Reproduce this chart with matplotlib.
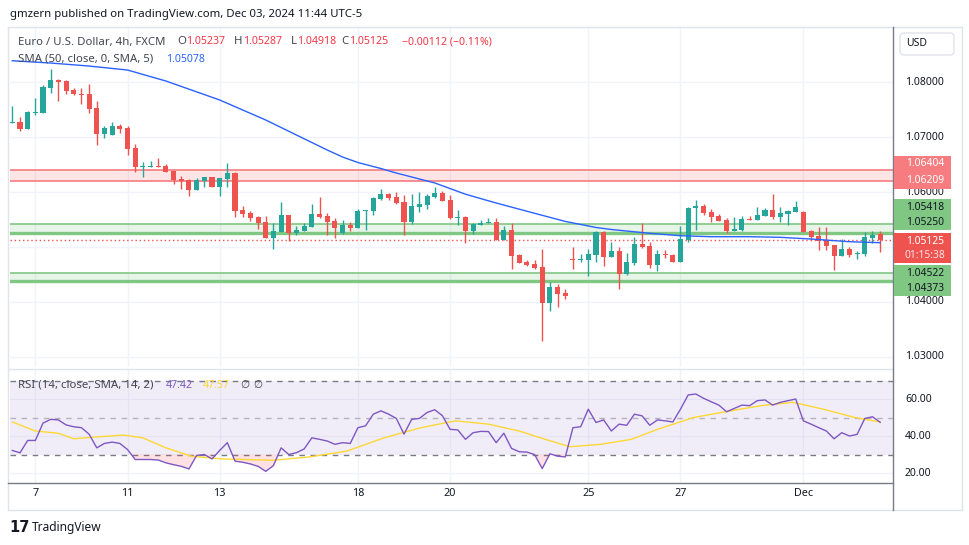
"""EUR/USD 4h chart with SMA(50) and RSI(14) panel, TradingView style."""
import matplotlib
matplotlib.use('Agg')
import matplotlib.pyplot as plt
from matplotlib.patches import Rectangle, FancyBboxPatch
import numpy as np

plt.rcParams['font.family'] = ['Noto Sans', 'DejaVu Sans']

W, H = 970, 545

# ── candles (index 0 = first visible 4h bar) ──
opens = [1.07258, 1.07273, 1.07151, 1.07436, 1.07442, 1.07896, 1.08036, 1.08018, 1.07855, 1.07787,
         1.07782, 1.07527, 1.07060, 1.07036, 1.07200, 1.07164, 1.06800, 1.06455, 1.06455, 1.06473,
         1.06467, 1.06382, 1.06231, 1.06218, 1.06036, 1.06205, 1.06267, 1.06096, 1.06242, 1.06351,
         1.05673, 1.05618, 1.05545, 1.05455, 1.05169, 1.05278, 1.05582, 1.05260, 1.05296, 1.05369,
         1.05600, 1.05564, 1.05473, 1.05249, 1.05395, 1.05351, 1.05655, 1.05655, 1.05878, 1.05964,
         1.05909, 1.05818, 1.05455, 1.05733, 1.05769, 1.05909, 1.05976, 1.05855, 1.05533, 1.05545,
         1.05291, 1.05405, 1.05442, 1.05455, 1.05127, 1.05309, 1.04855, 1.04727, 1.04691, 1.04636,
         1.03987, 1.04273, 1.04164, 1.04769, 1.04769, 1.04769, 1.04860, 1.05267, 1.04824, 1.04927,
         1.04515, 1.04709, 1.05049, 1.05013, 1.04673, 1.04873, 1.04855, 1.04727, 1.05133, 1.05704,
         1.05745, 1.05636, 1.05564, 1.05496, 1.05296, 1.05315, 1.05515, 1.05496, 1.05569, 1.05673,
         1.05545, 1.05605, 1.05636, 1.05636, 1.05291, 1.05200, 1.05127, 1.05036, 1.04836, 1.04964,
         1.04867, 1.04873, 1.05169, 1.05237]
highs = [1.07564, 1.07358, 1.07473, 1.07709, 1.07945, 1.08236, 1.08055, 1.08036, 1.07885, 1.07885,
         1.07964, 1.07655, 1.07195, 1.07273, 1.07231, 1.07205, 1.06867, 1.06551, 1.06564, 1.06613,
         1.06509, 1.06390, 1.06291, 1.06231, 1.06249, 1.06275, 1.06275, 1.06262, 1.06522, 1.06364,
         1.05745, 1.05655, 1.05569, 1.05558, 1.05431, 1.05813, 1.05590, 1.05387, 1.05431, 1.05782,
         1.05909, 1.05624, 1.05522, 1.05485, 1.05449, 1.05685, 1.05675, 1.05915, 1.06055, 1.05976,
         1.05995, 1.05945, 1.05964, 1.05995, 1.05958, 1.06096, 1.06013, 1.05945, 1.05673, 1.05564,
         1.05442, 1.05491, 1.05527, 1.05522, 1.05382, 1.05436, 1.04873, 1.04769, 1.04758, 1.04964,
         1.04358, 1.04327, 1.04236, 1.04995, 1.04867, 1.04964, 1.05291, 1.05291, 1.05085, 1.05000,
         1.04885, 1.05176, 1.05436, 1.05085, 1.04940, 1.04940, 1.04867, 1.05387, 1.05722, 1.05855,
         1.05782, 1.05691, 1.05600, 1.05533, 1.05545, 1.05564, 1.05558, 1.05727, 1.05709, 1.05964,
         1.05727, 1.05673, 1.05842, 1.05655, 1.05315, 1.05364, 1.05364, 1.05045, 1.05145, 1.05000,
         1.04927, 1.05278, 1.05291, 1.05287]
lows = [1.07250, 1.07115, 1.07145, 1.07405, 1.07435, 1.07805, 1.07660, 1.07782, 1.07764, 1.07600,
        1.07442, 1.06855, 1.06987, 1.07030, 1.07078, 1.06673, 1.06358, 1.06278, 1.06450, 1.06455,
        1.06355, 1.06145, 1.06055, 1.05933, 1.06030, 1.06096, 1.06085, 1.05933, 1.06096, 1.05551,
        1.05551, 1.05478, 1.05327, 1.05160, 1.04958, 1.05270, 1.05104, 1.05224, 1.05290, 1.05358,
        1.05527, 1.05224, 1.05158, 1.05240, 1.05291, 1.05345, 1.05309, 1.05587, 1.05855, 1.05860,
        1.05790, 1.05218, 1.05424, 1.05636, 1.05691, 1.05900, 1.05835, 1.05509, 1.05400, 1.05067,
        1.05242, 1.05400, 1.05436, 1.05120, 1.05120, 1.04605, 1.04705, 1.04655, 1.04600, 1.03296,
        1.03842, 1.03915, 1.04060, 1.04605, 1.04722, 1.04478, 1.04733, 1.04660, 1.04815, 1.04242,
        1.04491, 1.04673, 1.04987, 1.04618, 1.04564, 1.04805, 1.04720, 1.04720, 1.05096, 1.05315,
        1.05587, 1.05460, 1.05470, 1.05260, 1.05290, 1.05296, 1.05490, 1.05490, 1.05565, 1.05509,
        1.05460, 1.05400, 1.05630, 1.05270, 1.05133, 1.04951, 1.04940, 1.04582, 1.04830, 1.04824,
        1.04787, 1.04831, 1.05067, 1.04918]
closes = [1.07273, 1.07151, 1.07455, 1.07449, 1.07909, 1.08036, 1.08005, 1.07842, 1.07787, 1.07769,
          1.07515, 1.07055, 1.07164, 1.07200, 1.07151, 1.06787, 1.06455, 1.06473, 1.06467, 1.06460,
          1.06364, 1.06218, 1.06200, 1.06036, 1.06218, 1.06267, 1.06096, 1.06255, 1.06340, 1.05655,
          1.05605, 1.05527, 1.05442, 1.05169, 1.05291, 1.05582, 1.05260, 1.05309, 1.05382, 1.05600,
          1.05551, 1.05460, 1.05351, 1.05395, 1.05351, 1.05655, 1.05667, 1.05891, 1.05964, 1.05896,
          1.05800, 1.05455, 1.05745, 1.05782, 1.05927, 1.05976, 1.05842, 1.05533, 1.05540, 1.05291,
          1.05424, 1.05442, 1.05449, 1.05127, 1.05309, 1.04836, 1.04715, 1.04678, 1.04624, 1.03987,
          1.04273, 1.04151, 1.04115, 1.04758, 1.04776, 1.04867, 1.05273, 1.04824, 1.04927, 1.04515,
          1.04722, 1.05049, 1.05000, 1.04673, 1.04867, 1.04860, 1.04727, 1.05140, 1.05709, 1.05745,
          1.05624, 1.05545, 1.05478, 1.05296, 1.05333, 1.05509, 1.05496, 1.05582, 1.05673, 1.05545,
          1.05618, 1.05660, 1.05727, 1.05278, 1.05187, 1.05115, 1.05018, 1.04836, 1.04964, 1.04855,
          1.04896, 1.05182, 1.05218, 1.05125]

# SMA(50) line, sampled off the chart
sma_idx = [0, 5, 10, 15, 20, 27, 33, 37, 41, 43, 45, 48, 50, 55, 59, 63, 68, 72, 76, 78,
           83, 87, 91, 96, 100, 104, 109, 113]
sma_val = [1.08387, 1.08345, 1.08290, 1.08218, 1.08018, 1.07673, 1.07309, 1.07036, 1.06764, 1.06636,
           1.06536, 1.06427, 1.06345, 1.06165, 1.05960, 1.05800, 1.05613, 1.05465, 1.05355, 1.05318,
           1.05249, 1.05205, 1.05187, 1.05187, 1.05176, 1.05145, 1.05096, 1.05078]

# RSI(14) per bar and its SMA(14)
rsi = [32.2, 30.9, 37.6, 37.6, 47.0, 49.0, 48.7, 46.0, 45.0, 44.5,
       41.0, 33.6, 36.0, 36.7, 36.0, 32.7, 27.3, 27.3, 27.3, 27.0,
       25.5, 24.5, 23.6, 22.2, 29.5, 30.0, 27.6, 32.2, 36.4, 26.4,
       25.8, 24.9, 23.6, 20.9, 24.0, 33.6, 30.0, 31.0, 33.0, 39.0,
       38.2, 37.3, 35.5, 36.4, 36.0, 44.5, 45.5, 51.8, 53.6, 51.8,
       49.5, 41.0, 49.0, 49.5, 52.7, 54.2, 51.0, 43.6, 43.3, 38.2,
       41.8, 42.5, 42.4, 36.4, 41.5, 33.3, 31.5, 31.3, 30.0, 22.4,
       30.4, 29.1, 28.7, 44.5, 45.0, 54.5, 47.3, 48.7, 42.7, 46.4,
       45.8, 51.8, 50.9, 45.8, 48.7, 48.2, 47.6, 54.5, 62.2, 62.7,
       60.4, 58.5, 56.7, 53.1, 54.9, 56.7, 56.4, 59.1, 59.5, 56.7,
       58.2, 59.1, 60.0, 48.2, 46.4, 44.5, 42.7, 38.5, 41.8, 40.0,
       40.9, 49.5, 50.4, 47.42]
rsi_sma_idx = [0, 3, 6, 8, 11, 14.5, 17, 20, 23.4, 27.4, 34, 38.7, 43.5, 48.4, 53.2,
               57.7, 62, 66, 69.4, 72.6, 76.6, 80.6, 84, 88.7, 93.5, 97.5, 101.6, 105.6, 109.7, 113]
rsi_sma_val = [47.6, 42.7, 41.5, 38.5, 39.5, 40.5, 39.0, 33.6, 29.0, 27.6, 26.9, 28.7, 31.8, 39.0, 44.5,
               48.2, 46.4, 42.7, 38.2, 34.2, 35.5, 38.2, 43.6, 50.0, 53.6, 56.4, 58.2, 54.5, 50.0, 47.57]

day_labels = ['7', '11', '13', '18', '20', '25', '27', 'Dec']
day_idx = [3, 15, 27, 45, 57, 75, 87, 103]

price_ticks = [1.03, 1.04, 1.05, 1.06, 1.07, 1.08]
rsi_ticks = [20, 40, 60]

res_zone = (1.06209, 1.06404)
sup_zone_hi = (1.05250, 1.05418)
sup_zone_lo = (1.04373, 1.04522)
last_close = 1.05125
countdown = '01:15:38'

GREEN, RED = '#26a69a', '#ef5350'
TXT = '#131722'
GREY = '#434651'
GRID = '#f0f3fa'


def rect(x0, y0, x1, y1):
    return [x0 / W, 1 - y1 / H, (x1 - x0) / W, (y1 - y0) / H]


def py(a, v):
    """pixel row (from top) of value v on axes a"""
    return H - a.transData.transform((0, v))[1]


fig = plt.figure(figsize=(W / 100, H / 100), dpi=100)
fig.patch.set_facecolor('white')

x = np.arange(len(opens))
o, hi, lo, c = (np.array(v) for v in (opens, highs, lows, closes))
cols = np.where(c >= o, GREEN, RED)

# ── price panel ──
ax = fig.add_axes(rect(10, 28, 893, 367))
ax.set_xlim(-0.3, 114.67)
ax.set_ylim(1.02818, 1.08982)
ax.axis('off')
for p in price_ticks:
    ax.axhline(p, color=GRID, lw=1, zorder=0)
for d in day_idx:
    ax.axvline(d, color=GRID, lw=1, zorder=0)

ax.axhspan(*res_zone, color='#f23645', alpha=0.13, lw=0, zorder=1)
for v in res_zone:
    ax.axhline(v, color='#f77c80', lw=1.2, zorder=1)
for z in (sup_zone_hi, sup_zone_lo):
    ax.axhspan(*z, color='#4caf50', alpha=0.13, lw=0, zorder=1)
    ax.axhline(z[1], color='#81c784', lw=1.2, zorder=1)
    ax.axhline(z[0], color='#81c784', lw=2.4, zorder=1)

ax.vlines(x, lo, hi, colors=cols, lw=1, zorder=3)
ax.bar(x, np.maximum(np.abs(c - o), 0.0002), bottom=np.minimum(o, c),
       width=0.66, color=cols, lw=0, zorder=4)
ax.plot(sma_idx, sma_val, color='#2962ff', lw=1, zorder=5)
ax.axhline(last_close, color=RED, lw=1, ls=(0, (1, 2)), zorder=2)

# ── RSI panel ──
ra = fig.add_axes(rect(10, 370, 893, 483))
ra.set_xlim(-0.3, 114.67)
ra.set_ylim(14.6, 75.68)
ra.axis('off')
for t in rsi_ticks:
    ra.axhline(t, color=GRID, lw=1, zorder=0)
for d in day_idx:
    ra.axvline(d, color=GRID, lw=1, zorder=0)
ra.axhspan(30, 70, color='#7e57c2', alpha=0.1, lw=0, zorder=1)
ra.axhline(70, color='#787b86', lw=1, ls=(0, (4, 4)), zorder=2)
ra.axhline(30, color='#787b86', lw=1, ls=(0, (4, 4)), zorder=2)
ra.axhline(50, color='#787b86', lw=1, alpha=0.5, ls=(0, (4, 4)), zorder=2)
r = np.array(rsi)
ra.fill_between(x, r, 30, where=r < 30, interpolate=True, color='#f23645', alpha=0.15, lw=0, zorder=2)
ra.plot(x, r, color='#7e57c2', lw=1, zorder=4)
ra.plot(rsi_sma_idx, rsi_sma_val, color='#fdd835', lw=1, zorder=3)

# ── overlay in pixel coordinates: frame, scales, labels ──
ov = fig.add_axes([0, 0, 1, 1], zorder=10)
ov.set_xlim(0, W)
ov.set_ylim(H, 0)
ov.axis('off')
ov.patch.set_alpha(0)

ov.plot([8, 962, 962, 8, 8], [27, 27, 510, 510, 27], color='#e0e3eb', lw=1)
ov.plot([8, 893], [368.5, 368.5], color='#e0e3eb', lw=1)
ov.plot([8, 893], [483, 483], color='#787b86', lw=1)
ov.plot([893, 893], [27, 510], color='#787b86', lw=1)

# price-tag boxes on the right scale
y_r = py(ax, res_zone[0])
y_c = py(ax, last_close)
y_s = py(ax, sup_zone_lo[1])
tags = [
    (y_r - 25, y_r + 8, '#f77c80', [(f'{res_zone[1]:.5f}', y_r - 17, 'white'),
                                    (f'{res_zone[0]:.5f}', y_r, 'white')]),
    (y_c - 41, y_c - 10, '#81c784', [(f'{sup_zone_hi[1]:.5f}', y_c - 33, TXT),
                                      (f'{sup_zone_hi[0]:.5f}', y_c - 18, TXT)]),
    (y_c - 7, y_c + 23, RED, [(f'{last_close:.5f}', y_c + 1, 'white'),
                               (countdown, y_c + 15, '#fde0e0')]),
    (y_s - 8, y_s + 23, '#81c784', [(f'{sup_zone_lo[1]:.5f}', y_s, TXT),
                                     (f'{sup_zone_lo[0]:.5f}', y_s + 15, TXT)]),
]

for p in price_ticks:
    yp = py(ax, p)
    # the 1.05 level sits fully under the last-price tag
    if any(t0 + 3 < yp < t1 - 3 for t0, t1, _, _ in tags):
        continue
    ov.text(905, yp, f'{p:.5f}', fontsize=7.5, color=TXT, va='center', ha='left')
for t in rsi_ticks:
    ov.text(905, py(ra, t), f'{t:.2f}', fontsize=7.5, color=TXT, va='center', ha='left')
for lab, d in zip(day_labels, day_idx):
    xp = ax.transData.transform((d, 0))[0]
    ov.text(xp, 494, lab, fontsize=7.8, color=TXT, ha='center', va='center')

for t0, t1, face, lines in tags:
    ov.add_patch(Rectangle((894, t0), 57, t1 - t0, facecolor=face, edgecolor='none', zorder=3))
    for s, yy, col in lines:
        ov.text(925, yy, s, fontsize=7.4, color=col, ha='center', va='center', zorder=4)

ov.add_patch(FancyBboxPatch((900, 33), 54, 22, boxstyle='round,pad=0,rounding_size=4',
                            facecolor='white', edgecolor='#e0e3eb', lw=1))
ov.text(917, 44, 'USD', fontsize=7.5, color=TXT, ha='center', va='center')

# header and legends
ov.text(10, 14, 'gmzern published on TradingView.com, Dec 03, 2024 11:44 UTC-5',
        fontsize=8.2, color=TXT, va='center')
legend_y = 42
ov.text(18, legend_y, 'Euro / U.S. Dollar, 4h, FXCM', fontsize=8.2, color=GREY, va='center')
for lab, val, xl, xv in [('O', '1.05237', 177, 186), ('H', '1.05287', 234, 243),
                         ('L', '1.04918', 291, 297), ('C', '1.05125', 341, 349)]:
    ov.text(xl, legend_y, lab, fontsize=8.2, color=GREY, va='center')
    ov.text(xv, legend_y, val, fontsize=7.6, color='#f23645', va='center')
ov.text(402, legend_y, '\u22120.00112 (\u22120.11%)', fontsize=7.6, color='#f23645', va='center')
ov.text(18, 59, 'SMA (50, close, 0, SMA, 5)', fontsize=8.2, color=GREY, va='center')
ov.text(166, 59, '1.05078', fontsize=7.6, color='#2962ff', va='center')

rsi_y = 385
ov.text(18, rsi_y, 'RSI (14, close, SMA, 14, 2)', fontsize=8.2, color=GREY, va='center')
ov.text(166, rsi_y, '47.42', fontsize=7.6, color='#7e57c2', va='center')
ov.text(203, rsi_y, '47.57', fontsize=7.6, color='#fdd835', va='center')
ov.text(240, rsi_y, '\u2205', fontsize=7.6, color=GREY, va='center')
ov.text(253, rsi_y, '\u2205', fontsize=7.6, color=GREY, va='center')

ov.text(9, 527, '17', fontsize=10.5, fontweight='heavy', family='DejaVu Sans',
        color=TXT, va='center')
ov.text(32, 527, 'TradingView', fontsize=8.6, color=TXT, va='center')

fig.savefig('out.png', dpi=100, facecolor='white')
